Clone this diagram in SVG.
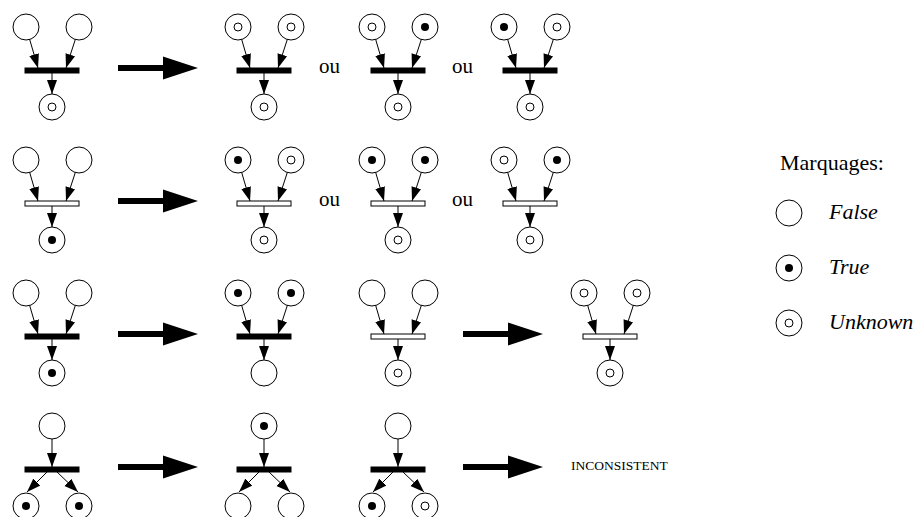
<svg xmlns="http://www.w3.org/2000/svg" width="917" height="517" viewBox="0 0 917 517">
<style>
.pl{fill:#fff;stroke:#000;stroke-width:1}
.dot{fill:#000;stroke:none}
.ring{fill:none;stroke:#000;stroke-width:1}
.tb{fill:#000;stroke:#000;stroke-width:1}
.th{fill:#fff;stroke:#000;stroke-width:1}
.arc{stroke:#000;stroke-width:1;fill:none;marker-end:url(#ah)}
.t{font-family:"Liberation Serif","Times New Roman","DejaVu Serif",serif;fill:#000}
.ou{font-size:21px}
.it{font-style:italic;font-size:22px}
</style>
<defs>
<marker id="ah" markerUnits="userSpaceOnUse" markerWidth="15" markerHeight="11" refX="14" refY="5" orient="auto"><path d="M0,0 L14,5 L0,10 Z" fill="#000"/></marker>
<path id="big" d="M0,-3 H45 V-11.5 L80,0 L45,11.5 V3 H0 Z" fill="#000"/>
<g id="jarcs"><line class="arc" x1="29.7" y1="39.5" x2="38" y2="68"/><line class="arc" x1="75.3" y1="39.5" x2="66" y2="68"/><line class="arc" x1="52" y1="73" x2="52" y2="94"/></g>
<g id="farcs"><line class="arc" x1="52" y1="40" x2="52" y2="68"/><line class="arc" x1="47" y1="73" x2="27" y2="93"/><line class="arc" x1="57" y1="73" x2="78" y2="93"/></g>
</defs>
<rect width="917" height="517" fill="#fff"/>

<!-- Row 1 -->
<g id="r1a" transform="translate(0,0)">
<g id="r1a-p1" transform="translate(26,27)"><circle class="pl" r="13"/></g>
<g id="r1a-p2" transform="translate(79,27)"><circle class="pl" r="13"/></g>
<g id="r1a-t"><rect class="tb" x="25" y="68" width="54" height="5"/></g>
<g id="r1a-p3" transform="translate(52,107)"><circle class="pl" r="13"/><circle class="ring" r="4"/></g>
<g id="r1a-arcs"><use href="#jarcs"/></g>
</g>
<g id="r1b" transform="translate(212,0)">
<g id="r1b-p1" transform="translate(26,27)"><circle class="pl" r="13"/><circle class="ring" r="4"/></g>
<g id="r1b-p2" transform="translate(79,27)"><circle class="pl" r="13"/><circle class="ring" r="4"/></g>
<g id="r1b-t"><rect class="tb" x="25" y="68" width="54" height="5"/></g>
<g id="r1b-p3" transform="translate(52,107)"><circle class="pl" r="13"/><circle class="ring" r="4"/></g>
<g id="r1b-arcs"><use href="#jarcs"/></g>
</g>
<g id="r1c" transform="translate(346,0)">
<g id="r1c-p1" transform="translate(26,27)"><circle class="pl" r="13"/><circle class="ring" r="4"/></g>
<g id="r1c-p2" transform="translate(79,27)"><circle class="pl" r="13"/><circle class="dot" r="4"/></g>
<g id="r1c-t"><rect class="tb" x="25" y="68" width="54" height="5"/></g>
<g id="r1c-p3" transform="translate(52,107)"><circle class="pl" r="13"/><circle class="ring" r="4"/></g>
<g id="r1c-arcs"><use href="#jarcs"/></g>
</g>
<g id="r1d" transform="translate(478,0)">
<g id="r1d-p1" transform="translate(26,27)"><circle class="pl" r="13"/><circle class="dot" r="4"/></g>
<g id="r1d-p2" transform="translate(79,27)"><circle class="pl" r="13"/><circle class="ring" r="4"/></g>
<g id="r1d-t"><rect class="tb" x="25" y="68" width="54" height="5"/></g>
<g id="r1d-p3" transform="translate(52,107)"><circle class="pl" r="13"/><circle class="ring" r="4"/></g>
<g id="r1d-arcs"><use href="#jarcs"/></g>
</g>

<!-- Row 2 -->
<g id="r2a" transform="translate(0,133)">
<g id="r2a-p1" transform="translate(26,27)"><circle class="pl" r="13"/></g>
<g id="r2a-p2" transform="translate(79,27)"><circle class="pl" r="13"/></g>
<g id="r2a-t"><rect class="th" x="25" y="68" width="54" height="5"/></g>
<g id="r2a-p3" transform="translate(52,107)"><circle class="pl" r="13"/><circle class="dot" r="4"/></g>
<g id="r2a-arcs"><use href="#jarcs"/></g>
</g>
<g id="r2b" transform="translate(212,133)">
<g id="r2b-p1" transform="translate(26,27)"><circle class="pl" r="13"/><circle class="dot" r="4"/></g>
<g id="r2b-p2" transform="translate(79,27)"><circle class="pl" r="13"/><circle class="ring" r="4"/></g>
<g id="r2b-t"><rect class="th" x="25" y="68" width="54" height="5"/></g>
<g id="r2b-p3" transform="translate(52,107)"><circle class="pl" r="13"/><circle class="ring" r="4"/></g>
<g id="r2b-arcs"><use href="#jarcs"/></g>
</g>
<g id="r2c" transform="translate(346,133)">
<g id="r2c-p1" transform="translate(26,27)"><circle class="pl" r="13"/><circle class="dot" r="4"/></g>
<g id="r2c-p2" transform="translate(79,27)"><circle class="pl" r="13"/><circle class="dot" r="4"/></g>
<g id="r2c-t"><rect class="th" x="25" y="68" width="54" height="5"/></g>
<g id="r2c-p3" transform="translate(52,107)"><circle class="pl" r="13"/><circle class="ring" r="4"/></g>
<g id="r2c-arcs"><use href="#jarcs"/></g>
</g>
<g id="r2d" transform="translate(478,133)">
<g id="r2d-p1" transform="translate(26,27)"><circle class="pl" r="13"/><circle class="ring" r="4"/></g>
<g id="r2d-p2" transform="translate(79,27)"><circle class="pl" r="13"/><circle class="dot" r="4"/></g>
<g id="r2d-t"><rect class="th" x="25" y="68" width="54" height="5"/></g>
<g id="r2d-p3" transform="translate(52,107)"><circle class="pl" r="13"/><circle class="ring" r="4"/></g>
<g id="r2d-arcs"><use href="#jarcs"/></g>
</g>

<!-- Row 3 -->
<g id="r3a" transform="translate(0,266)">
<g id="r3a-p1" transform="translate(26,27)"><circle class="pl" r="13"/></g>
<g id="r3a-p2" transform="translate(79,27)"><circle class="pl" r="13"/></g>
<g id="r3a-t"><rect class="tb" x="25" y="68" width="54" height="5"/></g>
<g id="r3a-p3" transform="translate(52,107)"><circle class="pl" r="13"/><circle class="dot" r="4"/></g>
<g id="r3a-arcs"><use href="#jarcs"/></g>
</g>
<g id="r3b" transform="translate(212,266)">
<g id="r3b-p1" transform="translate(26,27)"><circle class="pl" r="13"/><circle class="dot" r="4"/></g>
<g id="r3b-p2" transform="translate(79,27)"><circle class="pl" r="13"/><circle class="dot" r="4"/></g>
<g id="r3b-t"><rect class="tb" x="25" y="68" width="54" height="5"/></g>
<g id="r3b-p3" transform="translate(52,107)"><circle class="pl" r="13"/></g>
<g id="r3b-arcs"><use href="#jarcs"/></g>
</g>
<g id="r3c" transform="translate(346,266)">
<g id="r3c-p1" transform="translate(26,27)"><circle class="pl" r="13"/></g>
<g id="r3c-p2" transform="translate(79,27)"><circle class="pl" r="13"/></g>
<g id="r3c-t"><rect class="th" x="25" y="68" width="54" height="5"/></g>
<g id="r3c-p3" transform="translate(52,107)"><circle class="pl" r="13"/><circle class="ring" r="4"/></g>
<g id="r3c-arcs"><use href="#jarcs"/></g>
</g>
<g id="r3d" transform="translate(558,266)">
<g id="r3d-p1" transform="translate(26,27)"><circle class="pl" r="13"/><circle class="ring" r="4"/></g>
<g id="r3d-p2" transform="translate(79,27)"><circle class="pl" r="13"/><circle class="ring" r="4"/></g>
<g id="r3d-t"><rect class="th" x="25" y="68" width="54" height="5"/></g>
<g id="r3d-p3" transform="translate(52,107)"><circle class="pl" r="13"/><circle class="ring" r="4"/></g>
<g id="r3d-arcs"><use href="#jarcs"/></g>
</g>

<!-- Row 4 -->
<g id="r4a" transform="translate(0,399)">
<g id="r4a-p1" transform="translate(52,27)"><circle class="pl" r="13"/></g>
<g id="r4a-t"><rect class="tb" x="25" y="68" width="54" height="5"/></g>
<g id="r4a-p2" transform="translate(26,107)"><circle class="pl" r="13"/><circle class="dot" r="4"/></g>
<g id="r4a-p3" transform="translate(79,107)"><circle class="pl" r="13"/><circle class="dot" r="4"/></g>
<g id="r4a-arcs"><use href="#farcs"/></g>
</g>
<g id="r4b" transform="translate(212,399)">
<g id="r4b-p1" transform="translate(52,27)"><circle class="pl" r="13"/><circle class="dot" r="4"/></g>
<g id="r4b-t"><rect class="tb" x="25" y="68" width="54" height="5"/></g>
<g id="r4b-p2" transform="translate(26,107)"><circle class="pl" r="13"/></g>
<g id="r4b-p3" transform="translate(79,107)"><circle class="pl" r="13"/></g>
<g id="r4b-arcs"><use href="#farcs"/></g>
</g>
<g id="r4c" transform="translate(346,399)">
<g id="r4c-p1" transform="translate(52,27)"><circle class="pl" r="13"/></g>
<g id="r4c-t"><rect class="tb" x="25" y="68" width="54" height="5"/></g>
<g id="r4c-p2" transform="translate(26,107)"><circle class="pl" r="13"/><circle class="dot" r="4"/></g>
<g id="r4c-p3" transform="translate(79,107)"><circle class="pl" r="13"/><circle class="ring" r="4"/></g>
<g id="r4c-arcs"><use href="#farcs"/></g>
</g>

<!-- Transformation arrows -->
<g id="connectors">
<use href="#big" transform="translate(118,68)"/>
<use href="#big" transform="translate(118,201)"/>
<use href="#big" transform="translate(118,334)"/>
<use href="#big" transform="translate(463,334)"/>
<use href="#big" transform="translate(118,467)"/>
<use href="#big" transform="translate(463,467)"/>
</g>

<!-- Labels -->
<g id="labels" class="t">
<text class="t ou" x="319" y="73">ou</text>
<text class="t ou" x="452" y="73">ou</text>
<text class="t ou" x="319" y="206">ou</text>
<text class="t ou" x="452" y="206">ou</text>
<text class="t" x="571" y="470" font-size="13.5">INCONSISTENT</text>
</g>

<!-- Legend -->
<g id="legend">
<text class="t" x="780" y="170" font-size="22">Marquages:</text>
<g id="leg-false" transform="translate(789,213)"><circle class="pl" r="13"/></g>
<text class="t it" x="829" y="219">False</text>
<g id="leg-true" transform="translate(789,268)"><circle class="pl" r="13"/><circle class="dot" r="4"/></g>
<text class="t it" x="829" y="274">True</text>
<g id="leg-unknown" transform="translate(789,323)"><circle class="pl" r="13"/><circle class="ring" r="4"/></g>
<text class="t it" x="829" y="329">Unknown</text>
</g>
</svg>
